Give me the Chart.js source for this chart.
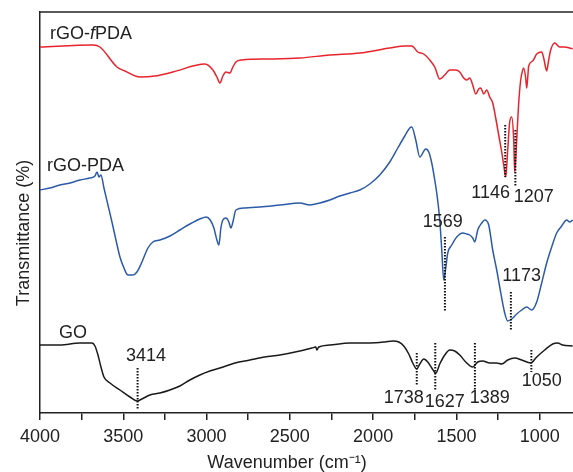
<!DOCTYPE html>
<html lang="en">
<head>
    <meta charset="UTF-8">
    <title>FTIR spectra</title>
    <script src="https://cdn.jsdelivr.net/npm/chart.js"></script>
    <style>
        body { margin: 0; background: #fff; }
        #wrap { width: 573px; height: 472px; }
    </style>
</head>
<body>
    <div id="wrap"><canvas id="ftir" width="573" height="472"></canvas></div>
    <script>
// wavenumbers (cm-1) and transmittance (offset, arbitrary units)
const redWave = [4000, 3682, 3640, 3538, 3490, 3400, 3310, 3202, 3010, 2962, 2938, 2920, 2902, 2884, 2860, 2842, 2824, 2788, 2620, 2440, 2260, 2080, 1900, 1810, 1768, 1732, 1696, 1660, 1630, 1600, 1570, 1540, 1504, 1480, 1456, 1438, 1420, 1402, 1384, 1366, 1354, 1336, 1318, 1300, 1282, 1264, 1246, 1228, 1216, 1204, 1192, 1180, 1168, 1156, 1150, 1138, 1126, 1114, 1102, 1096, 1084, 1078, 1072, 1066, 1042, 1018, 988, 976, 964, 958, 946, 934, 910, 880, 850, 820, 802];
const redT = [366, 368, 366, 346, 342, 336, 337, 341, 349, 343, 336, 330, 337, 341, 340, 346, 351, 353, 354, 355, 358, 360, 365, 367, 367, 361, 359, 353, 346, 334, 338, 343, 343, 341, 335, 333, 335, 328, 319, 324, 325, 319, 323, 316, 310, 295, 278, 261, 248, 236, 263, 291, 296, 273, 241, 273, 310, 333, 343, 345, 335, 325, 335, 347, 352, 359, 361, 355, 345, 342, 353, 363, 370, 366, 366, 365, 364];

const blueWave = [4000, 3940, 3880, 3820, 3760, 3700, 3670, 3658, 3646, 3634, 3616, 3592, 3568, 3544, 3520, 3496, 3472, 3442, 3418, 3388, 3352, 3322, 3280, 3220, 3160, 3100, 3040, 3002, 2978, 2956, 2938, 2926, 2914, 2902, 2884, 2866, 2854, 2842, 2824, 2770, 2680, 2560, 2440, 2380, 2320, 2260, 2200, 2140, 2080, 2020, 1960, 1900, 1852, 1810, 1780, 1768, 1744, 1720, 1684, 1666, 1648, 1630, 1618, 1600, 1588, 1576, 1564, 1552, 1528, 1498, 1462, 1438, 1420, 1402, 1390, 1372, 1348, 1330, 1306, 1282, 1258, 1240, 1210, 1192, 1168, 1138, 1108, 1078, 1048, 1018, 988, 958, 928, 898, 868, 838, 820, 802];
const blueT = [223, 225, 228, 230, 233, 235, 237, 241, 236, 238, 225, 208, 191, 173, 156, 145, 138, 138, 141, 151, 165, 171, 173, 177, 183, 189, 194, 196, 193, 185, 173, 168, 185, 193, 195, 191, 185, 191, 203, 205, 206, 208, 210, 208, 210, 213, 217, 220, 223, 229, 238, 251, 265, 277, 285, 286, 273, 256, 264, 261, 250, 233, 220, 193, 163, 133, 145, 160, 168, 176, 180, 179, 178, 175, 171, 183, 190, 193, 188, 163, 143, 126, 100, 92, 94, 99, 103, 106, 103, 111, 130, 150, 166, 180, 187, 193, 191, 193];

const blackWave = [4000, 3880, 3760, 3688, 3670, 3652, 3634, 3616, 3580, 3520, 3460, 3418, 3388, 3340, 3280, 3220, 3160, 3100, 3040, 2980, 2920, 2830, 2740, 2650, 2560, 2440, 2368, 2344, 2338, 2326, 2260, 2140, 2020, 1930, 1882, 1846, 1816, 1786, 1762, 1738, 1720, 1696, 1672, 1648, 1624, 1600, 1570, 1540, 1510, 1480, 1444, 1402, 1372, 1342, 1300, 1258, 1228, 1192, 1150, 1108, 1054, 1018, 970, 922, 892, 862, 802];
const blackT = [68, 68, 70, 70, 67, 58, 46, 36, 30, 23, 16, 12, 14, 18, 20, 23, 27, 33, 38, 42, 45, 50, 53, 56, 58, 62, 65, 66, 63, 66, 68, 70, 70, 71, 72, 71, 67, 59, 50, 44, 49, 54, 51, 45, 40, 49, 58, 63, 62, 58, 51, 46, 51, 52, 50, 50, 49, 53, 55, 53, 50, 56, 63, 69, 70, 68, 67];

const seriesNames = ['rGO-fPDA', 'rGO-PDA', 'GO'];
const seriesColors = ['#e8232b', '#2c5aa8', '#1a1a1a'];

const xTicks = [4000, 3750, 3500, 3250, 3000, 2750, 2500, 2250, 2000, 1750, 1500, 1250, 1000];

// peak markers: wavenumber, line from/to (y units), label and where its centre sits
const peaks = [
    { w: 3414, from: 45, to: 4, text: '3414', lw: 3364, ly: 57 },
    { w: 1207, from: 288, to: 236, text: '1146', lw: 1294, ly: 220 },
    { w: 1146, from: 283, to: 226, text: '1207', lw: 1036, ly: 216 },
    { w: 1569, from: 176, to: 101, text: '1569', lw: 1582, ly: 191 },
    { w: 1173, from: 121, to: 83, text: '1173', lw: 1108, ly: 137 },
    { w: 1738, from: 60, to: 28, text: '1738', lw: 1816, ly: 15 },
    { w: 1627, from: 70, to: 23, text: '1627', lw: 1570, ly: 11 },
    { w: 1389, from: 70, to: 23, text: '1389', lw: 1300, ly: 15 },
    { w: 1050, from: 63, to: 41, text: '1050', lw: 988, ly: 32 }
];
// curve names (left edge of text)
const nameSpots = [[3940, 379], [3958, 247], [3886, 80]];

const FONT = '"Liberation Sans", Arial, sans-serif';

function pts(xs, ys) {
    return xs.map((x, i) => ({ x: x, y: ys[i] }));
}

const extras = {
    id: 'extras',
    afterDatasetsDraw(chart) {
        const ctx = chart.ctx;
        const xs = chart.scales.x;
        const ys = chart.scales.y;
        const a = chart.chartArea;
        ctx.save();
        // top frame line
        ctx.strokeStyle = '#222';
        ctx.lineWidth = 1.5;
        ctx.beginPath();
        ctx.moveTo(a.left, a.top);
        ctx.lineTo(a.right, a.top);
        ctx.stroke();

        // dotted peak markers
        ctx.setLineDash([1.5, 1.5]);
        ctx.lineWidth = 2;
        ctx.strokeStyle = '#111';
        peaks.forEach(p => {
            const px = xs.getPixelForValue(p.w);
            ctx.beginPath();
            ctx.moveTo(px, ys.getPixelForValue(p.from));
            ctx.lineTo(px, ys.getPixelForValue(p.to));
            ctx.stroke();
        });
        ctx.setLineDash([]);

        ctx.fillStyle = '#222';
        ctx.font = '18px ' + FONT;
        ctx.textBaseline = 'middle';
        ctx.textAlign = 'center';
        peaks.forEach(p => {
            ctx.fillText(p.text, xs.getPixelForValue(p.lw), ys.getPixelForValue(p.ly));
        });

        // series names, "f" in italics for the first one
        ctx.textAlign = 'left';
        nameSpots.forEach((s, i) => {
            let x = xs.getPixelForValue(s[0]);
            const y = ys.getPixelForValue(s[1]);
            if (i === 0) {
                const parts = [['rGO-', ''], ['f', 'italic '], ['PDA', '']];
                parts.forEach(pt => {
                    ctx.font = pt[1] + '18px ' + FONT;
                    ctx.fillText(pt[0], x, y);
                    x += ctx.measureText(pt[0]).width;
                });
                ctx.font = '18px ' + FONT;
            } else {
                ctx.fillText(seriesNames[i], x, y);
            }
        });

        // axis titles
        ctx.textAlign = 'center';
        ctx.fillText('Wavenumber (cm\u207B\u00B9)', 287, 463);
        ctx.translate(24, 233);
        ctx.rotate(-Math.PI / 2);
        ctx.fillText('Transmittance (%)', 0, 0);
        ctx.restore();
    }
};

const ctx = document.getElementById('ftir').getContext('2d');
new Chart(ctx, {
    type: 'line',
    data: {
        datasets: [
            { label: seriesNames[0], data: pts(redWave, redT), borderColor: seriesColors[0] },
            { label: seriesNames[1], data: pts(blueWave, blueT), borderColor: seriesColors[1], tension: 0 },
            { label: seriesNames[2], data: pts(blackWave, blackT), borderColor: seriesColors[2] }
        ]
    },
    options: {
        responsive: false,
        animation: false,
        devicePixelRatio: 1,
        parsing: true,
        elements: {
            point: { radius: 0 },
            line: { borderWidth: 1.5, fill: false, cubicInterpolationMode: 'monotone' }
        },
        layout: { padding: { top: 12, right: 0, left: 0, bottom: 0 } },
        plugins: { legend: { display: false }, tooltip: { enabled: false } },
        scales: {
            x: {
                type: 'linear',
                reverse: true,
                min: 800,
                max: 4000,
                afterBuildTicks: s => { s.ticks = xTicks.map(v => ({ value: v })); },
                afterFit: s => { s.height = 59; },
                ticks: {
                    autoSkip: false,
                    maxRotation: 0,
                    padding: 6,
                    color: '#222',
                    font: { size: 18, family: FONT },
                    callback: v => (v % 500 === 0 ? String(v) : '')
                },
                grid: { drawOnChartArea: false, tickLength: 7, color: '#222', lineWidth: 1.5 },
                border: { color: '#222', width: 1.5 }
            },
            y: {
                min: 0,
                max: 401,
                afterFit: s => { s.width = 40; },
                ticks: { display: false },
                grid: { display: false },
                border: { color: '#222', width: 1.5 }
            }
        }
    },
    plugins: [extras]
});
    </script>
</body>
</html>
